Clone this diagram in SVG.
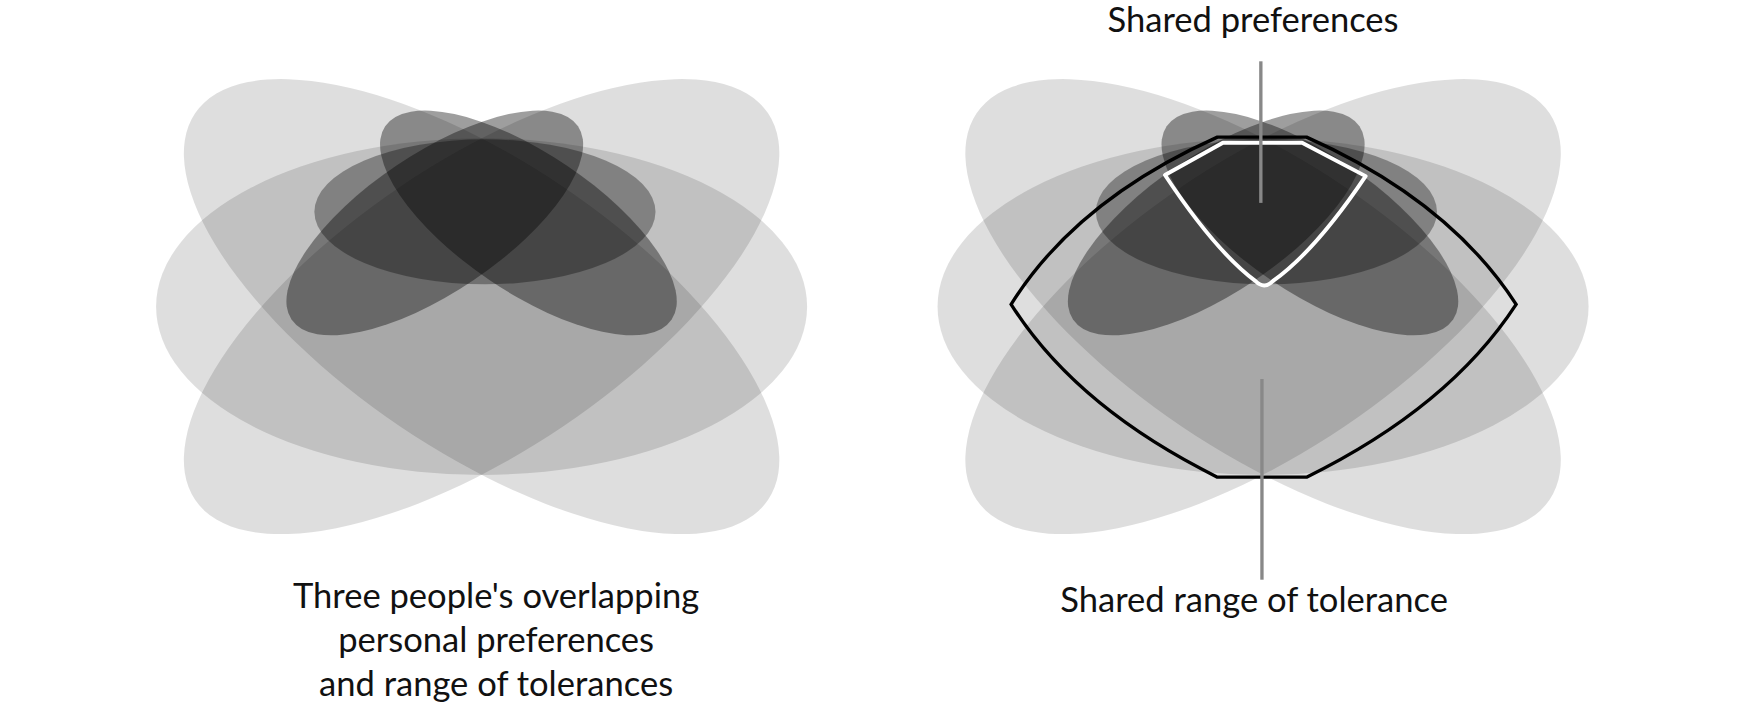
<svg xmlns="http://www.w3.org/2000/svg" width="1748" height="706" viewBox="0 0 1748 706">
<defs>
<style>
.o{fill:#000;fill-opacity:.13}
.p{fill:#000;fill-opacity:.38}
.h{fill:#000;fill-opacity:.33}
.t{font-family:Lato,"Noto Sans",sans-serif;font-size:31px;fill:#111;text-anchor:middle}
.l{stroke:#888;stroke-width:3;fill:none}
</style>
<g id="blobs">
<ellipse class="o" cx="0" cy="0" rx="292" ry="151"/>
<ellipse class="o" cx="0" cy="0" rx="310" ry="130" transform="rotate(34)"/>
<ellipse class="o" cx="0" cy="0" rx="310" ry="130" transform="rotate(-34)"/>
<ellipse class="p" cx="-42" cy="-75" rx="155" ry="62" transform="rotate(-34 -42 -75)"/>
<ellipse class="p" cx="42" cy="-75" rx="155" ry="62" transform="rotate(34 42 -75)"/>
<ellipse class="h" cx="3" cy="-85" rx="153" ry="65"/>
</g>
</defs>
<rect width="1748" height="706" fill="#fff"/>
<g transform="scale(1.1148)">
<g id="left"><use href="#blobs" transform="translate(432 275)"/></g>
<g id="right"><use href="#blobs" transform="translate(1133 275)"/>
<path id="tolerance" d="M1092,123 L1172,123 Q1300,180 1360,273 Q1300,365 1172,428 L1092,428 Q965,365 907,273 Q965,180 1092,123 Z" fill="none" stroke="#000" stroke-width="3"/>
<path id="preferences" d="M1097,128 L1168,128 L1225,158 Q1180,225 1142,252 Q1134,260 1126,252 Q1090,225 1045,157 Z" fill="none" stroke="#fff" stroke-width="3.5" stroke-linejoin="round"/>
</g>
<g id="connectors">
<line class="l" x1="1131" y1="55" x2="1131" y2="182"/>
<line class="l" x1="1132" y1="340" x2="1132" y2="520"/>
</g>
<g id="labels">
<text class="t" x="1124" y="29">Shared preferences</text>
<text class="t" x="1125" y="549">Shared range of tolerance</text>
<text class="t" x="445" y="545">Three people's overlapping</text>
<text class="t" x="445" y="585">personal preferences</text>
<text class="t" x="445" y="624">and range of tolerances</text>
</g>
</g>
</svg>
